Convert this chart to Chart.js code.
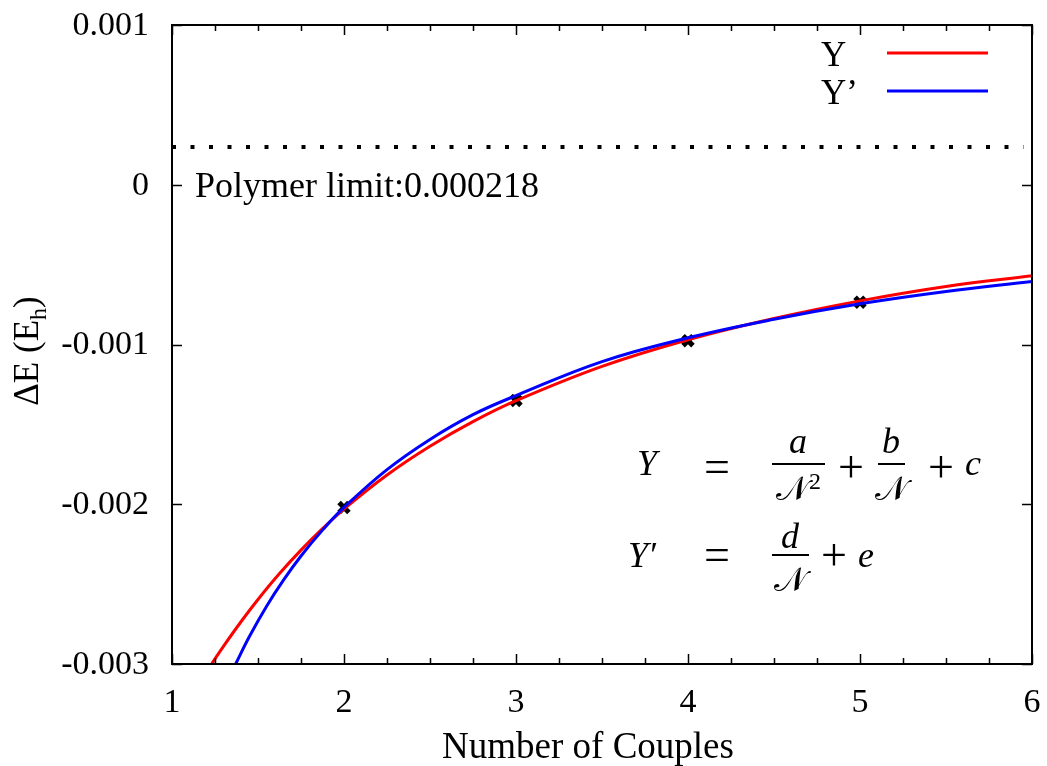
<!DOCTYPE html>
<html>
<head>
<meta charset="utf-8">
<script src="https://cdn.jsdelivr.net/npm/chart.js@4/dist/chart.umd.min.js"></script>
<style>
  html, body { margin: 0; padding: 0; background: #fff; }
  canvas { display: block; }
</style>
</head>
<body>
<canvas id="chart" width="1047" height="766"></canvas>
<script>
// measured points (number of couples vs energy difference)
const couples = [2, 3, 4, 5];
const deltaE = [-0.00202, -0.00135, -0.000976, -0.000735];

// fitted curve Y = a/N^2 + b/N + c
const fitYX = [1.23, 1.3, 1.4, 1.5, 1.625, 1.75, 1.875, 2, 2.25, 2.5, 2.75, 3, 3.5, 4, 4.5, 5, 5.5, 6];
const fitYV = [-0.003, -0.002888, -0.002737, -0.002596, -0.002434, -0.002287, -0.002153, -0.00203, -0.001817,
  -0.001637, -0.001483, -0.001352, -0.001137, -0.00097, -0.000837, -0.000727, -0.000637, -0.00057];

// fitted curve Y' = d/N + e
const fitY2X = [1.37, 1.45, 1.55, 1.65, 1.75, 1.875, 2, 2.25, 2.5, 2.75, 3, 3.5, 4, 4.5, 5, 5.5, 6];
const fitY2V = [-0.003, -0.002828, -0.002638, -0.002472, -0.002324, -0.002162, -0.00202, -0.001783,
  -0.001594, -0.001439, -0.00132, -0.001107, -0.000958, -0.000842, -0.000745, -0.000668, -0.000605];

// polymer limit dotted line
const polymerX = [1, 5.95];
const polymerY = [0.000236, 0.000236];

const xTickLabels = ['1', '2', '3', '4', '5', '6'];
const yTickLabels = ['-0.003', '-0.002', '-0.001', '0', '0.001'];
const seriesNames = ['Y', 'Y\u2019'];
const seriesColors = ['#ff0000', '#0000ff'];

const SERIF = '"Liberation Serif", "Times New Roman", serif';

const toXY = (xs, ys) => xs.map((x, i) => ({ x: x, y: ys[i] }));

// gnuplot style frame, inward ticks, tick labels, legend, titles, formula
const decorations = {
  id: 'decorations',
  afterDraw(chart) {
    const ctx = chart.ctx;
    const a = chart.chartArea;
    const xs = chart.scales.x;
    const ys = chart.scales.y;
    ctx.save();
    ctx.strokeStyle = '#000';
    ctx.fillStyle = '#000';

    // ticks
    ctx.lineWidth = 1.5;
    ctx.beginPath();
    for (let v = 1; v <= 6.0001; v += 0.25) {
      const px = Math.round(xs.getPixelForValue(v)) + 0.5;
      const len = Math.abs(v - Math.round(v)) < 1e-6 ? 10 : 6;
      ctx.moveTo(px, a.bottom); ctx.lineTo(px, a.bottom - len);
      ctx.moveTo(px, a.top); ctx.lineTo(px, a.top + len);
    }
    ys.ticks.forEach(t => {
      const py = Math.round(ys.getPixelForValue(t.value)) + 0.5;
      ctx.moveTo(a.left, py); ctx.lineTo(a.left + 10, py);
      ctx.moveTo(a.right, py); ctx.lineTo(a.right - 10, py);
    });
    ctx.stroke();

    // frame
    ctx.lineWidth = 2;
    ctx.strokeRect(a.left, a.top, a.right - a.left, a.bottom - a.top);

    // tick labels
    ctx.font = '34px ' + SERIF;
    ctx.textAlign = 'right';
    ctx.textBaseline = 'middle';
    ys.ticks.forEach((t, i) => {
      ctx.fillText(yTickLabels[i], a.left - 23, ys.getPixelForValue(t.value) + 1);
    });
    ctx.textAlign = 'center';
    ctx.textBaseline = 'alphabetic';
    xs.ticks.forEach((t, i) => {
      ctx.fillText(xTickLabels[i], xs.getPixelForValue(t.value), a.bottom + 48);
    });

    // legend
    ctx.font = '35px ' + SERIF;
    ctx.textAlign = 'left';
    const legendRows = [53, 91];
    seriesNames.forEach((name, i) => {
      ctx.fillText(name, 821, legendRows[i] + 13);
      ctx.strokeStyle = seriesColors[i];
      ctx.lineWidth = 3;
      ctx.beginPath();
      ctx.moveTo(887, legendRows[i]);
      ctx.lineTo(988, legendRows[i]);
      ctx.stroke();
    });

    // polymer label
    ctx.font = '36px ' + SERIF;
    ctx.fillText('Polymer limit:0.000218', 195, 197);

    // x title
    ctx.textAlign = 'center';
    ctx.font = '37px ' + SERIF;
    ctx.fillText('Number of Couples', 588, 758);

    // y title with subscript
    ctx.save();
    ctx.translate(38, 351);
    ctx.rotate(-Math.PI / 2);
    ctx.textAlign = 'left';
    const main = '\u0394E (E';
    ctx.font = '35px ' + SERIF;
    const w1 = ctx.measureText(main).width;
    ctx.font = '24px ' + SERIF;
    const w2 = ctx.measureText('h').width;
    ctx.font = '35px ' + SERIF;
    const w3 = ctx.measureText(')').width;
    let x0 = -(w1 + w2 + w3) / 2;
    ctx.fillText(main, x0, 0);
    ctx.font = '24px ' + SERIF;
    ctx.fillText('h', x0 + w1, 8);
    ctx.font = '35px ' + SERIF;
    ctx.fillText(')', x0 + w1 + w2, 0);
    ctx.restore();

    // formula
    const ital = 'italic 36px ' + SERIF;
    const op = '46px ' + SERIF;
    const cal = '34px "DejaVu Serif", serif';
    const calN = '\uD835\uDCA9';
    ctx.textAlign = 'left';
    ctx.font = ital;
    ctx.fillText('Y', 637, 475);
    ctx.fillText('Y\u2032', 628, 567);
    ctx.font = op;
    ctx.textAlign = 'center';
    ctx.fillText('=', 717, 482);
    ctx.fillText('=', 717, 570);
    ctx.fillText('+', 851, 482);
    ctx.fillText('+', 941, 482);
    ctx.fillText('+', 834, 570);
    ctx.fillRect(772, 463, 53, 2);
    ctx.fillRect(878, 463, 27, 2);
    ctx.fillRect(772, 554, 37, 2);
    ctx.font = ital;
    ctx.fillText('a', 798, 453);
    ctx.fillText('b', 891, 453);
    ctx.fillText('d', 790, 548);
    ctx.textAlign = 'left';
    ctx.fillText('c', 965, 475);
    ctx.fillText('e', 858, 567);
    ctx.textAlign = 'center';
    ctx.font = cal;
    ctx.fillText(calN, 792, 500);
    ctx.fillText(calN, 891, 500);
    ctx.fillText(calN, 790, 591);
    ctx.font = '24px ' + SERIF;
    ctx.textAlign = 'left';
    ctx.fillText('2', 809, 489);

    ctx.restore();
  }
};

new Chart(document.getElementById('chart'), {
  type: 'scatter',
  data: {
    datasets: [
      {
        label: seriesNames[1],
        data: toXY(fitY2X, fitY2V),
        showLine: true,
        borderColor: seriesColors[1],
        borderWidth: 3,
        pointRadius: 0,
        tension: 0.4,
        order: 0
      },
      {
        label: seriesNames[0],
        data: toXY(fitYX, fitYV),
        showLine: true,
        borderColor: seriesColors[0],
        borderWidth: 3,
        pointRadius: 0,
        tension: 0.4,
        order: 1
      },
      {
        label: 'data',
        data: toXY(couples, deltaE),
        showLine: false,
        pointStyle: 'crossRot',
        pointRadius: 7,
        borderWidth: 5,
        borderColor: '#000',
        backgroundColor: '#000',
        order: 2
      },
      {
        label: 'polymer limit',
        data: toXY(polymerX, polymerY),
        showLine: true,
        borderColor: '#000',
        borderWidth: 4,
        borderDash: [4, 14.5],
        borderCapStyle: 'butt',
        pointRadius: 0,
        order: 3
      }
    ]
  },
  options: {
    responsive: false,
    animation: false,
    layout: { padding: { top: 25, right: 15, left: 0, bottom: 0 } },
    plugins: {
      legend: { display: false },
      tooltip: { enabled: false }
    },
    scales: {
      x: {
        type: 'linear',
        min: 1,
        max: 6,
        grid: { display: false, drawTicks: false },
        border: { display: false },
        ticks: { display: false, stepSize: 1 },
        afterFit(scale) { scale.height = 102; }
      },
      y: {
        type: 'linear',
        min: -0.003,
        max: 0.001,
        grid: { display: false, drawTicks: false },
        border: { display: false },
        ticks: { display: false, stepSize: 0.001 },
        afterFit(scale) { scale.width = 172; }
      }
    }
  },
  plugins: [decorations]
});
</script>
</body>
</html>
